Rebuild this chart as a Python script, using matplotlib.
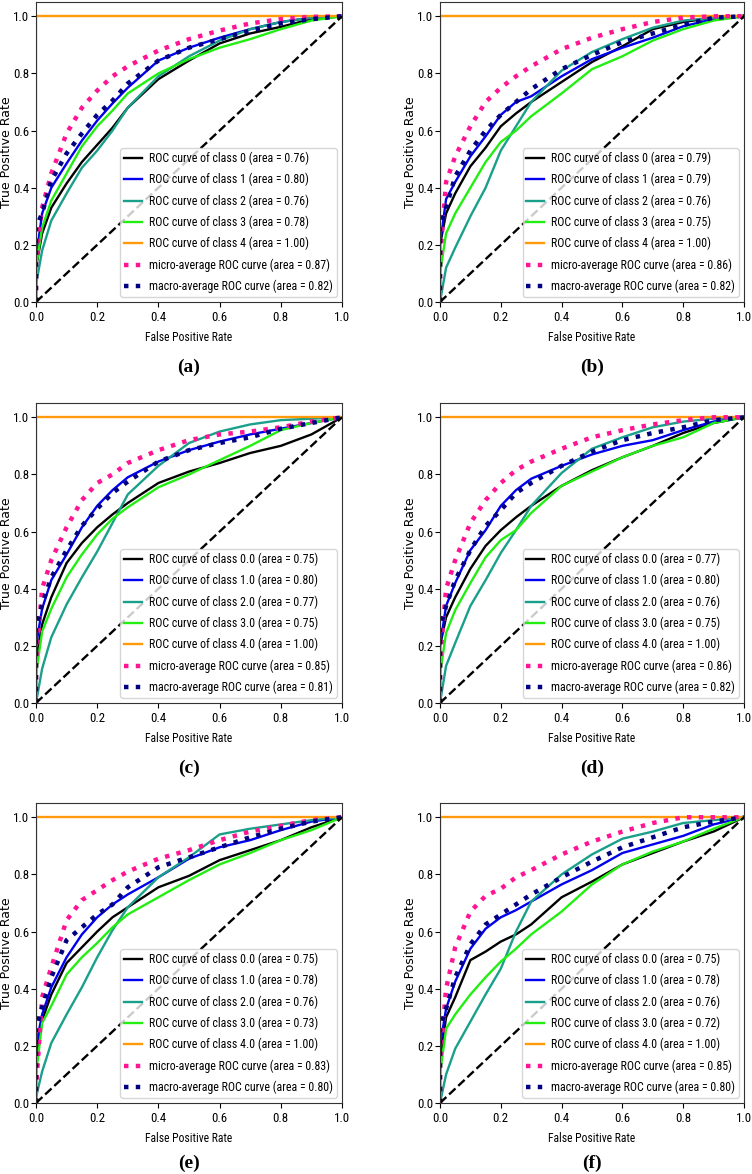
import matplotlib
matplotlib.use("Agg")
import matplotlib.pyplot as plt
from matplotlib.font_manager import FontProperties

# ---------------- data ----------------
FPR = [0.0, 0.0, 0.02, 0.05, 0.10, 0.15, 0.20, 0.25, 0.30, 0.40, 0.50, 0.60, 0.70, 0.80, 0.90, 1.0]
PERFECT_FPR = [0.0, 0.0, 1.0]
PERFECT_TPR = [0.0, 1.0, 1.0]
DIAG = [0.0, 1.0]

# order: class0, class1, class2, class3, micro, macro
TPR_A = [
    [0, 0.12, 0.24, 0.33, 0.415, 0.49, 0.55, 0.61, 0.68, 0.78, 0.845, 0.905, 0.94, 0.963, 0.99, 1],
    [0, 0.15, 0.31, 0.40, 0.485, 0.565, 0.635, 0.695, 0.75, 0.845, 0.89, 0.925, 0.955, 0.98, 0.995, 1],
    [0, 0.06, 0.18, 0.285, 0.38, 0.47, 0.53, 0.60, 0.68, 0.79, 0.86, 0.915, 0.955, 0.98, 0.995, 1],
    [0, 0.12, 0.26, 0.355, 0.45, 0.545, 0.615, 0.67, 0.73, 0.80, 0.85, 0.89, 0.92, 0.955, 0.985, 1],
    [0, 0.15, 0.33, 0.45, 0.59, 0.68, 0.74, 0.79, 0.825, 0.88, 0.92, 0.95, 0.975, 0.99, 0.998, 1],
    [0, 0.26, 0.31, 0.425, 0.52, 0.59, 0.655, 0.705, 0.765, 0.845, 0.89, 0.92, 0.95, 0.975, 0.99, 1],
]
TPR_B = [
    [0, 0.20, 0.31, 0.38, 0.475, 0.54, 0.615, 0.66, 0.70, 0.77, 0.84, 0.895, 0.955, 0.98, 0.995, 1],
    [0, 0.20, 0.36, 0.42, 0.51, 0.58, 0.655, 0.70, 0.72, 0.79, 0.85, 0.89, 0.925, 0.965, 0.99, 1],
    [0, 0.00, 0.12, 0.19, 0.30, 0.40, 0.53, 0.615, 0.70, 0.81, 0.875, 0.92, 0.96, 0.985, 0.995, 1],
    [0, 0.10, 0.24, 0.31, 0.40, 0.49, 0.56, 0.60, 0.65, 0.73, 0.815, 0.86, 0.915, 0.955, 0.985, 1],
    [0, 0.15, 0.42, 0.51, 0.615, 0.70, 0.75, 0.79, 0.825, 0.885, 0.925, 0.955, 0.98, 0.995, 1.0, 1],
    [0, 0.26, 0.33, 0.44, 0.53, 0.60, 0.655, 0.70, 0.745, 0.815, 0.865, 0.91, 0.94, 0.97, 0.995, 1],
]
TPR_C = [
    [0, 0.15, 0.275, 0.37, 0.49, 0.56, 0.615, 0.66, 0.70, 0.77, 0.81, 0.84, 0.875, 0.90, 0.94, 1],
    [0, 0.20, 0.33, 0.43, 0.52, 0.615, 0.69, 0.745, 0.79, 0.845, 0.885, 0.915, 0.94, 0.96, 0.98, 1],
    [0, 0.00, 0.12, 0.23, 0.345, 0.44, 0.53, 0.63, 0.73, 0.83, 0.91, 0.95, 0.975, 0.99, 0.995, 1],
    [0, 0.10, 0.25, 0.33, 0.44, 0.52, 0.59, 0.645, 0.685, 0.755, 0.80, 0.85, 0.90, 0.955, 0.98, 1],
    [0, 0.15, 0.40, 0.50, 0.615, 0.71, 0.77, 0.80, 0.84, 0.885, 0.92, 0.94, 0.95, 0.965, 0.985, 1],
    [0, 0.26, 0.345, 0.44, 0.535, 0.62, 0.68, 0.735, 0.775, 0.845, 0.885, 0.91, 0.93, 0.96, 0.98, 1],
]
TPR_D = [
    [0, 0.20, 0.30, 0.37, 0.47, 0.55, 0.605, 0.65, 0.69, 0.76, 0.815, 0.86, 0.90, 0.945, 0.98, 1],
    [0, 0.20, 0.34, 0.42, 0.535, 0.605, 0.69, 0.745, 0.785, 0.83, 0.87, 0.90, 0.92, 0.955, 0.985, 1],
    [0, 0.00, 0.13, 0.21, 0.34, 0.43, 0.525, 0.605, 0.69, 0.805, 0.89, 0.93, 0.965, 0.985, 0.995, 1],
    [0, 0.10, 0.245, 0.325, 0.42, 0.51, 0.57, 0.605, 0.665, 0.76, 0.81, 0.86, 0.90, 0.93, 0.98, 1],
    [0, 0.15, 0.40, 0.50, 0.63, 0.71, 0.77, 0.815, 0.845, 0.89, 0.93, 0.955, 0.975, 0.99, 1.0, 1],
    [0, 0.26, 0.34, 0.43, 0.535, 0.62, 0.675, 0.735, 0.77, 0.83, 0.88, 0.92, 0.945, 0.965, 0.99, 1],
]
TPR_E = [
    [0, 0.15, 0.29, 0.38, 0.49, 0.545, 0.60, 0.65, 0.685, 0.755, 0.795, 0.85, 0.885, 0.92, 0.965, 1],
    [0, 0.20, 0.31, 0.405, 0.51, 0.59, 0.65, 0.695, 0.73, 0.79, 0.855, 0.895, 0.92, 0.955, 0.985, 1],
    [0, 0.02, 0.11, 0.21, 0.31, 0.405, 0.51, 0.605, 0.685, 0.79, 0.86, 0.94, 0.96, 0.975, 0.99, 1],
    [0, 0.10, 0.28, 0.34, 0.45, 0.51, 0.56, 0.615, 0.66, 0.72, 0.78, 0.835, 0.875, 0.92, 0.955, 1],
    [0, 0.05, 0.37, 0.475, 0.64, 0.71, 0.745, 0.78, 0.81, 0.855, 0.885, 0.92, 0.95, 0.97, 0.99, 1],
    [0, 0.26, 0.335, 0.44, 0.57, 0.615, 0.66, 0.695, 0.755, 0.825, 0.86, 0.895, 0.93, 0.96, 0.985, 1],
]
TPR_F = [
    [0, 0.15, 0.30, 0.37, 0.50, 0.53, 0.565, 0.59, 0.625, 0.72, 0.775, 0.835, 0.875, 0.915, 0.95, 1],
    [0, 0.20, 0.33, 0.425, 0.54, 0.61, 0.65, 0.675, 0.705, 0.765, 0.815, 0.875, 0.905, 0.935, 0.975, 1],
    [0, 0.00, 0.10, 0.19, 0.285, 0.38, 0.47, 0.60, 0.705, 0.80, 0.87, 0.925, 0.95, 0.98, 0.99, 1],
    [0, 0.10, 0.26, 0.31, 0.38, 0.44, 0.495, 0.54, 0.59, 0.67, 0.765, 0.835, 0.88, 0.915, 0.96, 1],
    [0, 0.15, 0.40, 0.545, 0.67, 0.725, 0.75, 0.79, 0.815, 0.87, 0.915, 0.95, 0.98, 1.0, 1.0, 1],
    [0, 0.26, 0.33, 0.44, 0.555, 0.625, 0.66, 0.695, 0.73, 0.79, 0.845, 0.895, 0.93, 0.965, 0.985, 1],
]

# areas: class0..class4, micro, macro
AUC_A = [0.76, 0.80, 0.76, 0.78, 1.00, 0.87, 0.82]
AUC_B = [0.79, 0.79, 0.76, 0.75, 1.00, 0.86, 0.82]
AUC_C = [0.75, 0.80, 0.77, 0.75, 1.00, 0.85, 0.81]
AUC_D = [0.77, 0.80, 0.76, 0.75, 1.00, 0.86, 0.82]
AUC_E = [0.75, 0.78, 0.76, 0.73, 1.00, 0.83, 0.80]
AUC_F = [0.75, 0.78, 0.76, 0.72, 1.00, 0.85, 0.80]

CLASS_NAMES_INT = ["0", "1", "2", "3", "4"]
CLASS_NAMES_FLT = ["0.0", "1.0", "2.0", "3.0", "4.0"]
PANEL_LETTERS = ["(a)", "(b)", "(c)", "(d)", "(e)", "(f)"]
TICKS = [0.0, 0.2, 0.4, 0.6, 0.8, 1.0]

PANELS = [
    (TPR_A, AUC_A, CLASS_NAMES_INT),
    (TPR_B, AUC_B, CLASS_NAMES_INT),
    (TPR_C, AUC_C, CLASS_NAMES_FLT),
    (TPR_D, AUC_D, CLASS_NAMES_FLT),
    (TPR_E, AUC_E, CLASS_NAMES_FLT),
    (TPR_F, AUC_F, CLASS_NAMES_FLT),
]

# ---------------- styling ----------------
CLASS_COLORS = ["black", "#0000ee", "#1aa08a", "#22ee11", "#ff9a0a"]
MICRO_COLOR = "#ff1493"
MACRO_COLOR = "#000080"

LEGFONT = FontProperties(family="Roboto Condensed", size=8.6)
XLFONT = FontProperties(family="Roboto Condensed", size=8.4)
TICKFONT = FontProperties(family="Roboto Condensed", size=9.3)

W, H = 752, 1174
fig = plt.figure(figsize=(W / 100, H / 100), dpi=100)

col_left = [36 / W, 440 / W]
col_width = [306 / W, 304 / W]
row_bottom = [1 - 302 / H, 1 - 703 / H, 1 - 1103 / H]
ax_h = 300 / H
label_y = [1 - 367 / H, 1 - 768 / H, 1 - 1163 / H]
ylabel_x = [-23 / 306, -23 / 304]

for i, (tprs, aucs, names) in enumerate(PANELS):
    r, c = divmod(i, 2)
    ax = fig.add_axes([col_left[c], row_bottom[r], col_width[c], ax_h])
    handles = []
    for k in range(4):
        h, = ax.plot(FPR, tprs[k], color=CLASS_COLORS[k], lw=1.7,
                     label=f"ROC curve of class {names[k]} (area = {aucs[k]:.2f})")
        handles.append(h)
    h4, = ax.plot(PERFECT_FPR, PERFECT_TPR, color=CLASS_COLORS[4], lw=1.7,
                  label=f"ROC curve of class {names[4]} (area = {aucs[4]:.2f})")
    handles.append(h4)
    hm, = ax.plot(FPR, tprs[4], color=MICRO_COLOR, lw=3.2, linestyle=":",
                  label=f"micro-average ROC curve (area = {aucs[5]:.2f})")
    hM, = ax.plot(FPR, tprs[5], color=MACRO_COLOR, lw=3.2, linestyle=":",
                  label=f"macro-average ROC curve (area = {aucs[6]:.2f})")
    handles += [hm, hM]
    ax.plot(DIAG, DIAG, "k--", lw=1.7)

    ax.set_xlim(0.0, 1.0)
    ax.set_ylim(0.0, 1.05)
    ax.set_xticks(TICKS)
    ax.set_yticks(TICKS)
    ax.set_xticklabels([f"{t:.1f}" for t in TICKS], fontproperties=TICKFONT)
    ax.set_yticklabels([f"{t:.1f}" for t in TICKS], fontproperties=TICKFONT)
    ax.tick_params(axis="x", length=3.5, width=0.8, pad=3)
    ax.tick_params(axis="y", length=3.5, width=0.8, pad=1.5)
    ax.set_xlabel("False Positive Rate", fontproperties=XLFONT, labelpad=5)
    ax.set_ylabel("True Positive Rate", family="DejaVu Sans", fontsize=9.0)
    ax.yaxis.set_label_coords(ylabel_x[c], 0.5)
    for s in ax.spines.values():
        s.set_color("#333333")

    ax.legend(handles=handles, loc="lower right", prop=LEGFONT,
              borderpad=0.3, handlelength=1.5, handletextpad=0.6,
              borderaxespad=0.45, labelspacing=0.66)

    cx = col_left[c] + col_width[c] / 2
    fig.text(cx, label_y[r], PANEL_LETTERS[i], ha="center", va="center",
             family="Liberation Serif", fontweight="bold", fontsize=14)

fig.savefig("out.png", dpi=100)
